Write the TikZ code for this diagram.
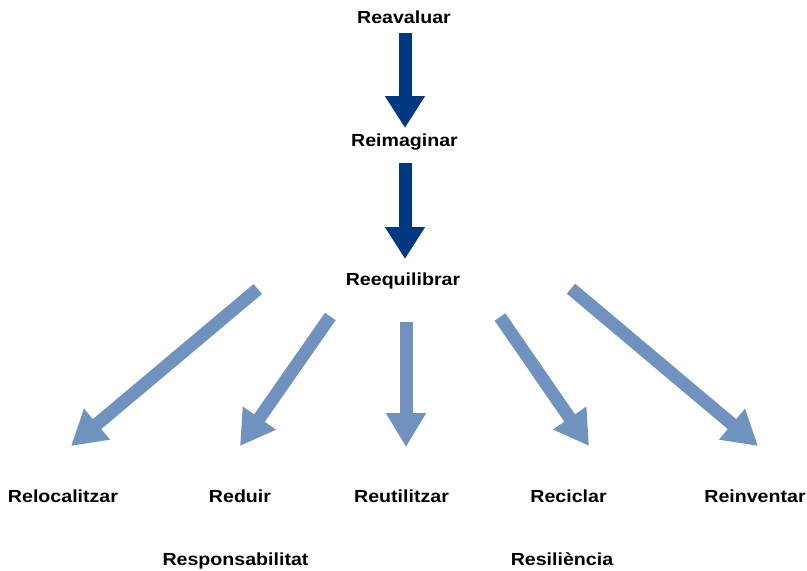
\documentclass[tikz,border=0pt]{standalone}
\usepackage{fontspec}
\setmainfont{Liberation Sans}
\usetikzlibrary{arrows.meta}
\definecolor{darkblue}{RGB}{0,57,130}
\definecolor{lightblue}{RGB}{112,146,190}
\begin{document}
\begin{tikzpicture}[x=1pt,y=-1pt,
  lbl/.style={font=\bfseries\fontsize{17.5}{20}\selectfont, anchor=base, inner sep=0pt, xscale=1.12},
  bigarrow/.style={line width=13pt, -{Triangle[length=32pt,width=38pt]}},
  darkarrow/.style={bigarrow, draw=darkblue, fill=darkblue},
  lightarrow/.style={bigarrow, draw=lightblue, fill=lightblue, -{Triangle[length=34pt,width=38pt]}}]
\useasboundingbox (0,0) rectangle (807,571);
% labels
\node[lbl] (reav) at (404,23) {Reavaluar};
\node[lbl] (reim) at (404.5,146) {Reimaginar};
\node[lbl] (reeq) at (403,285) {Reequilibrar};
\node[lbl] (reloc) at (63,502) {Relocalitzar};
\node[lbl] (redu) at (240,502) {Reduir};
\node[lbl] (reut) at (401.5,502) {Reutilitzar};
\node[lbl] (reci) at (568.5,502) {Reciclar};
\node[lbl] (rein) at (755,502) {Reinventar};
\node[lbl] (resp) at (235.5,565) {Responsabilitat};
\node[lbl] (resi) at (562,565) {Resiliència};
% arrow endpoints
\coordinate (a1s) at (405,33);   \coordinate (a1e) at (405,128);
\coordinate (a2s) at (405,163);  \coordinate (a2e) at (405,259);
\coordinate (l1s) at (257.8,289); \coordinate (l1e) at (71,446);
\coordinate (l2s) at (330.3,316.5); \coordinate (l2e) at (240,446);
\coordinate (l3s) at (406,322);  \coordinate (l3e) at (406,447);
\coordinate (l4s) at (500,317);  \coordinate (l4e) at (589,446);
\coordinate (l5s) at (571,288.7); \coordinate (l5e) at (758,446);
% arrows
\draw[darkarrow] (a1s) -- (a1e);
\draw[darkarrow] (a2s) -- (a2e);
\draw[lightarrow] (l1s) -- (l1e);
\draw[lightarrow] (l2s) -- (l2e);
\draw[lightarrow] (l3s) -- (l3e);
\draw[lightarrow] (l4s) -- (l4e);
\draw[lightarrow] (l5s) -- (l5e);
\end{tikzpicture}
\end{document}
